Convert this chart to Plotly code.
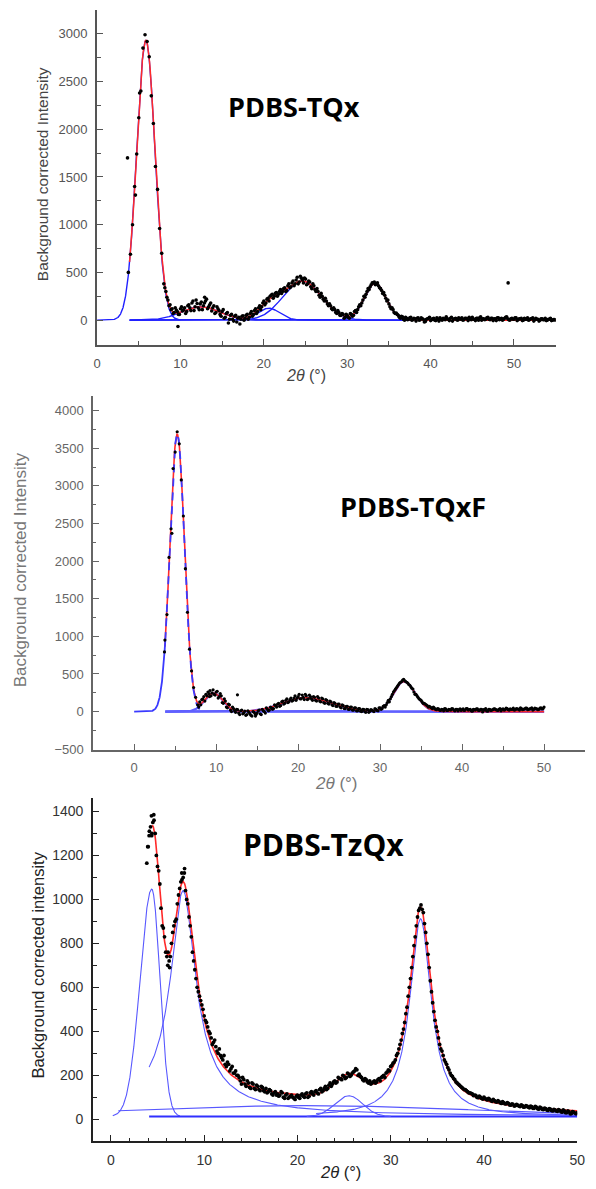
import numpy as np
import plotly.graph_objects as go

W, H = 596, 1189

# ---------------- PDBS-TQx ----------------
tqx_x0, tqx_step = 3.75, 0.25
tqx_y = [
    500, 690, 1000, 1400, 1740, 2120, 2400, 2850, 2990, 2920, 2760, 2350, 2060, 1610, 1370, 960,
    700, 380, 300, 210, 160, 120, 80, 105, 60, 120, 95, 130, 90, 160, 100, 200,
    140, 175, 110, 190, 150, 200, 120, 160, 95, 150, 80, 120, 60, 90, 20, 70,
    -30, 50, 10, 40, -20, 30, 10, 45, 20, 60, 30, 90, 60, 120, 90, 150,
    140, 200, 180, 230, 250, 270, 250, 290, 270, 320, 300, 340, 310, 380, 350, 410,
    380, 450, 400, 440, 390, 430, 380, 400, 330, 360, 300, 300, 240, 250, 200, 200,
    150, 150, 110, 110, 70, 80, 50, 60, 30, 50, 20, 60, 50, 100, 110, 160,
    180, 250, 270, 330, 350, 390, 400, 380, 360, 330, 280, 260, 200, 170, 120, 110,
    70, 60, 30, 40, 10, 30, 5, 25, 0, 20,
    -10, 25, 5, 15, -20, 10, 20, -5, 15, 0, 25, -10, 10, 20, 5, 15,
    -5, 30, 10, 20, 0, 15, 25, 5, 20, -5, 15, 30, 10, 20, 0, 35,
    15, 5, 25, 10, 20, -5, 15, 25, 5, 20, 10, 30, 15, 0, 20, 10,
    25, 5, 15, -5, 20, 10, 0, 15, 25, 5, 10, -10, 15, 5, 20, 0,
    10, -5, 5, 0,
]
# second, interleaved set of readings (half-step offset)
tqx_x0b = 8.125
tqx_yb = [
    340, 240, 150, 110, 70, 130, 90, 60, 140, 110, 70, 150, 130, 180, 100, 210,
    130, 170, 110, 180, 220, 140, 180, 130, 70, 140, 100, 40, 110, 30, 80, 10,
    60, -10, 50, 20, -40, 40, 0, 50, 10, 70, 40, 100, 70, 130, 110, 180,
    160, 220, 200, 260, 230, 280, 250, 300, 280, 330, 300, 360, 340, 390, 360, 420,
    380, 460, 420, 440, 370, 410, 350, 380, 320, 330, 260, 280, 220, 230, 170, 170,
    120, 130, 80, 100, 50, 70, 20, 60, 30, 70, 40, 90, 80, 140, 150, 210,
    240, 300, 320, 370, 390, 370, 390, 340, 310, 290, 230, 210, 140, 130, 80, 75,
    50, 20, 35, 0, 20, 10, 30, 5, 15,
    20, 0, 25, 10, -15, 15, 30, 5, 20, -5, 10, 25, 0, 15, 35, 10, 20, -10, 15, 5,
    25, 10, 0, 20, 15, 30, 5, 10, -5, 20, 25, 0, 15, 10, 30, 5, 20, 15, -5, 25,
    10, 0, 20, 35, 5, 15, 10, 25, -5, 15, 20, 0, 10, 25, 5, 15, -10, 20, 10, 0,
    15, 5, -5, 10, 20, 0, 5,
]
tqx_extra_x = [3.65, 4.6, 5.1, 9.7, 12.9, 49.3]
tqx_extra_y = [1700, 1310, 2380, -66, 240, 390]
# Gaussian fit components: (height, centre, sigma)
tqx_peaks = [(2930, 5.85, 1.1), (140, 12.4, 2.3), (125, 20.6, 1.3), (410, 24.6, 2.3), (385, 33.35, 1.3)]

# ---------------- PDBS-TQxF ----------------
tqxf_x0, tqxf_step = 3.75, 0.25
tqxf_y = [
    950, 1290, 2050, 2430, 3230, 3450, 3720, 3560, 3080, 2600, 1900, 1320, 830, 540, 320, 190,
    90, 130, 160, 200, 230, 260, 280, 250, 230, 260, 180, 240, 120, 170, 60, 100,
    20, 60, 10, 30, -20, 10, -30, 5, -40, -10, -50, 0, -30, -20, 20, -40,
    10, -20, 30, 20, 50, 40, 80, 100, 70, 130, 100, 150, 120, 160, 140, 180,
    150, 200, 170, 220, 160, 210, 170, 200, 150, 190, 140, 180, 130, 170, 110, 150,
    100, 130, 80, 110, 70, 100, 50, 80, 40, 70, 30, 60, 20, 50, 10, 40,
    0, 30, -10, 25, 5, 20, 0, 30, 10, 50, 40, 80, 90, 150, 170, 230,
    280, 320, 360, 390, 420, 410, 390, 360, 330, 300, 230, 210, 170, 150, 110, 100,
    80, 70, 50, 60, 30, 40, 20,
    30, 10, 35, 15, 25, 40, 20, 30, 10, 35, 25, 15, 40, 20, 30, 5,
    25, 35, 15, 30, -5, 20, 10, 30, 15, 25, 35, 20, 30, 10, 35, 25,
    40, 20, 30, 45, 25, 35, 20, 40, 30, 45, 25, 35, 50, 30, 40, 25,
    45, 35, 60,
]
tqxf_x0b = 7.875
tqxf_yb = [
    60, 90, 170, 140, 210, 240, 210, 290, 220, 270, 200, 210, 110, 140, 50, 90,
    0, 40, -10, 25, -40, 20, -20, -50, 10, -30, -60, -10, -40, 10, -30, 30,
    0, 50, 10, 60, 30, 90, 60, 110, 80, 140, 110, 170, 130, 180, 150, 210,
    180, 230, 170, 190, 230, 160, 220, 170, 200, 150, 200, 140, 180, 120, 160, 110,
    140, 90, 120, 70, 100, 60, 90, 40, 70, 30, 60, 20, 50, 10, 40, 5,
    30, 0, 30, -10, 25, 10, 40, 15, 50, 30, 70, 60, 120, 130, 200, 260,
    300, 340, 380, 400, 430, 400, 380, 350, 310, 260, 230, 190, 160, 130, 110, 90,
    60, 60, 40, 45, 25, 35, 15,
    25, 40, 15, 30, 20, 35, 10, 30, 25, 15, 35, 20, 40, 25, 10, 30, 20, 35, 15, 30,
    25, 40, 5, 30, 20, 35, 25, 15, 40, 30, 20, 45, 25, 35, 30, 20, 40, 30, 50, 25,
    35, 45, 30, 40, 20, 45, 35, 30, 50, 40,
]
tqxf_extra_x = [3.7, 4.6, 9.2, 12.6, 14.8]
tqxf_extra_y = [793, 2370, 200, 223, -60]
# main peak (Gaussian) and asymmetric side peaks: (height, centre, sigma_left, sigma_right)
tqxf_main = (3690, 5.25, 0.88)
tqxf_side = [(245, 9.7, 1.1, 1.1), (185, 20.8, 2.7, 3.2), (400, 32.9, 1.26, 1.4)]

# ---------------- PDBS-TzQx ----------------
tzqx_x0, tzqx_step = 4.0, 0.25
tzqx_y = [
    1240, 1330, 1350, 1300, 1150, 1070, 880, 830, 740, 720, 800, 880, 910, 1020, 1080, 1100,
    1040, 980, 880, 760, 680, 600, 560, 520, 470, 440, 400, 370, 350, 330, 300, 290,
    270, 250, 260, 220, 240, 210, 200, 190, 160, 180, 150, 165, 140, 160, 135, 150,
    130, 145, 125, 120, 135, 115, 120, 110, 105, 125, 100, 110, 95, 105, 100, 90,
    110, 95, 115, 100, 120, 105, 125, 110, 130, 115, 140, 130, 150, 140, 165, 160,
    175, 170, 185, 180, 195, 190, 205, 200, 215, 230, 200, 195, 180, 185, 170, 175,
    165, 175, 170, 185, 190, 200, 210, 225, 240, 255, 270, 300, 340, 390, 440, 510,
    600, 690, 790, 880, 950, 975, 940, 850, 750, 630, 530, 450, 400, 340, 310, 270,
    250, 225, 200, 185, 170, 160, 150, 140, 135, 125, 120, 115, 110, 100, 105, 95,
    100, 90, 95, 85, 90, 80, 85, 75, 80, 70, 75, 65, 70, 60, 68, 60,
    65, 55, 62, 55, 60, 50, 58, 48, 55, 45, 50, 42, 48, 40, 45, 38,
    44, 35, 42, 30, 38, 25, 35, 28, 30,
]
tzqx_x0b = 4.125
tzqx_yb = [
    1310, 1290, 1360, 1200, 1130, 960, 870, 760, 760, 740, 850, 900, 980, 1050, 1090, 1120,
    1000, 920, 830, 720, 640, 580, 540, 500, 450, 420, 390, 340, 360, 310, 320, 280,
    290, 240, 250, 230, 210, 220, 200, 175, 190, 160, 175, 145, 165, 140, 155, 135,
    150, 130, 140, 125, 130, 110, 125, 115, 110, 120, 95, 115, 100, 110, 95, 105,
    100, 110, 105, 115, 100, 120, 115, 125, 120, 135, 125, 140, 135, 155, 150, 170,
    165, 190, 185, 200, 185, 210, 195, 210, 220, 225, 205, 190, 175, 180, 165, 160,
    170, 165, 180, 175, 195, 190, 215, 220, 245, 260, 290, 320, 360, 410, 480, 560,
    640, 740, 830, 920, 960, 955, 890, 800, 690, 580, 490, 420, 370, 320, 290, 260,
    235, 210, 195, 180, 165, 155, 145, 135, 130, 120, 118, 108, 108, 98, 100, 92,
    95, 88, 90, 82, 85, 78, 80, 72, 75, 70, 72, 64, 68, 62, 64, 58,
    62, 56, 60, 52, 57, 50, 55, 46, 52, 44, 48, 40, 46, 38, 42, 36,
    40, 32, 38, 30, 34, 26, 32, 25,
]
tzqx_extra_x = [3.85, 3.95, 4.1, 4.35, 4.6, 4.4, 7.6, 7.9, 6.1, 6.3]
tzqx_extra_y = [1165, 1240, 1290, 1380, 1385, 1300, 1120, 1140, 700, 690]
tzqx_base = 12
tzqx_a = (1035, 4.38, 1.25, 0.88)        # split Gaussian
tzqx_b = (1028, 7.74, 1.75, 0.75)        # Pearson VII (height, centre, hwhm, m)
tzqx_c = (900, 33.2, 1.4)                # Lorentzian
tzqx_d = (95, 25.5, 1.5)                 # Gaussian
tzqx_e = (50, 21.0, 18.0)                # broad Gaussian


def gauss(x, h, c, s):
    return h * np.exp(-(x - c) ** 2 / (2 * s * s))


def bigauss(x, h, c, sl, sr):
    s = np.where(x < c, sl, sr)
    return h * np.exp(-(x - c) ** 2 / (2 * s * s))


def pearson7(x, h, c, w, m):
    return h / (1 + ((x - c) / w) ** 2 * (2 ** (1 / m) - 1)) ** m


def lorentz(x, h, c, g):
    return h / (1 + ((x - c) / g) ** 2)


def grid(a, b):
    return np.linspace(a, b, 600)


def xs_of(x0, step, ys):
    return x0 + step * np.arange(len(ys))


fig = go.Figure()


def line(x, y, ax, color, width, dash="solid"):
    fig.add_trace(go.Scatter(x=x, y=y, mode="lines", xaxis="x" + ax, yaxis="y" + ax,
                             line=dict(color=color, width=width, dash=dash), hoverinfo="skip"))


def dots(x, y, ax, size=3.6):
    fig.add_trace(go.Scatter(x=x, y=y, mode="markers", xaxis="x" + ax, yaxis="y" + ax,
                             marker=dict(color="black", size=size, line=dict(width=0)), hoverinfo="skip"))


BLUE1, BLUE2, BLUE3, RED = "#2020ff", "#3a3aff", "#5858ff", "#ff2a2a"

# ---- panel 1 ----
g = grid(0, 10)
line(g, gauss(g, *tqx_peaks[0]), "", BLUE1, 1.4)
g = grid(3.9, 37.6)
for p in tqx_peaks[1:]:
    line(g, gauss(g, *p), "", BLUE1, 1.4)
g = grid(3.9, 55)
line(g, sum(gauss(g, *p) for p in tqx_peaks), "", RED, 1.5)
dots(xs_of(tqx_x0, tqx_step, tqx_y), tqx_y, "")
dots(xs_of(tqx_x0b, tqx_step, tqx_yb), tqx_yb, "")
dots(tqx_extra_x, tqx_extra_y, "")

# ---- panel 2 ----
g = grid(3.8, 50)
for p in tqxf_side:
    line(g, bigauss(g, *p), "2", "#6060ff", 2.2)
g = grid(3.75, 50)
line(g, gauss(g, *tqxf_main) + sum(bigauss(g, *p) for p in tqxf_side), "2", RED, 1.6)
g = grid(0, 3.8)
line(g, gauss(g, *tqxf_main), "2", BLUE2, 1.8)
g = grid(3.8, 8)
line(g, gauss(g, *tqxf_main), "2", BLUE2, 1.8, dash="8px,6px")
dots(xs_of(tqxf_x0, tqxf_step, tqxf_y), tqxf_y, "2", 3.2)
dots(xs_of(tqxf_x0b, tqxf_step, tqxf_yb), tqxf_yb, "2", 3.2)
dots(tqxf_extra_x, tqxf_extra_y, "2", 3.2)

# ---- panel 3 ----
b0 = tzqx_base
g = grid(0.2, 7.4)
line(g, b0 + bigauss(g, *tzqx_a), "3", BLUE3, 1.1)
g = grid(4.1, 50)
line(g, b0 + pearson7(g, *tzqx_b), "3", BLUE3, 1.1)
line(g, b0 + 0 * g, "3", "#3030ff", 2.0)
g = grid(22, 50)
line(g, b0 + lorentz(g, *tzqx_c), "3", BLUE3, 1.1)
g = grid(21, 30)
line(g, b0 + gauss(g, *tzqx_d), "3", BLUE3, 1.1)
g = grid(0.8, 50)
line(g, b0 + gauss(g, *tzqx_e), "3", BLUE3, 1.1)
g = grid(4.4, 50)
total3 = (b0 + bigauss(g, *tzqx_a) + pearson7(g, *tzqx_b) + lorentz(g, *tzqx_c)
          + gauss(g, *tzqx_d) + gauss(g, *tzqx_e))
line(g, total3, "3", RED, 1.6)
dots(xs_of(tzqx_x0, tzqx_step, tzqx_y), tzqx_y, "3", 3.8)
dots(xs_of(tzqx_x0b, tzqx_step, tzqx_yb), tzqx_yb, "3", 3.8)
dots(tzqx_extra_x, tzqx_extra_y, "3", 3.8)


def xdom(a, b):
    return [a / W, b / W]


def ydom(top, bottom):
    return [1 - bottom / H, 1 - top / H]


def axis_style(color, width, fsize, dtick, minor, tcolor):
    return dict(showline=True, linecolor=color, linewidth=width, showgrid=False, zeroline=False,
                ticks="inside", ticklen=6, tickwidth=1.3, tickcolor=color, tickmode="linear",
                tick0=0, dtick=dtick,
                minor=dict(ticks="inside", ticklen=3.5, tickwidth=1.2, tickcolor=color, dtick=minor),
                tickfont=dict(family="Liberation Sans, Arial", size=fsize, color=tcolor))


fig.update_layout(
    width=W, height=H, margin=dict(l=0, r=0, t=0, b=0),
    paper_bgcolor="white", plot_bgcolor="white", showlegend=False,
    xaxis=dict(domain=xdom(95, 563), anchor="y", range=[0, 55], ticklabelstandoff=5,
               **axis_style("#555555", 2, 13, 10, 5, "#555555")),
    yaxis=dict(domain=ydom(10, 347), anchor="x", range=[-260, 3250], ticklabelstandoff=5,
               **axis_style("#555555", 2, 13, 500, 250, "#555555")),
    xaxis2=dict(domain=xdom(91, 593), anchor="y2", range=[-5, 55], ticklabelstandoff=5,
                **axis_style("#666666", 1.6, 13, 10, 5, "#666666")),
    yaxis2=dict(domain=ydom(398, 754), anchor="x2", range=[-505, 4200], ticklabelstandoff=5,
                **axis_style("#666666", 1.6, 13, 500, 250, "#666666")),
    xaxis3=dict(domain=xdom(91, 585), anchor="y3", range=[-1.9, 50], ticklabelstandoff=5,
                **axis_style("#222222", 2, 14, 10, 2, "#333333")),
    yaxis3=dict(domain=ydom(803, 1148), anchor="x3", range=[-100, 1460], ticklabelstandoff=5,
                **axis_style("#222222", 2, 14, 200, 100, "#333333")),
)


def note(text, px, py, size, color, family="Liberation Sans, Arial", angle=0):
    fig.add_annotation(text=text, x=px / W, y=1 - py / H, xref="paper", yref="paper",
                       xanchor="center", yanchor="middle", showarrow=False, textangle=angle,
                       font=dict(family=family, size=size, color=color))


note("<b>PDBS-TQx</b>", 296, 107, 27, "black", "Open Sans")
note("<b>PDBS-TQxF</b>", 417, 510, 27, "black", "Open Sans")
note("<b>PDBS-TzQx</b>", 326, 850, 30, "black", "Open Sans")

note("Background corrected Intensity", 40, 175, 15.5, "#444444", angle=-90)
note("Background corrected Intensity", 17, 573, 17, "#777777", angle=-90)
note("Background corrected intensity", 35, 971, 16.5, "#222222", angle=-90)

note("<i>2θ</i> (°)", 308, 378, 16, "#444444")
note("<i>2θ</i> (°)", 339, 788, 17, "#777777")
note("<i>2θ</i> (°)", 343, 1179, 16.5, "#222222")

fig.write_html("out.html")
